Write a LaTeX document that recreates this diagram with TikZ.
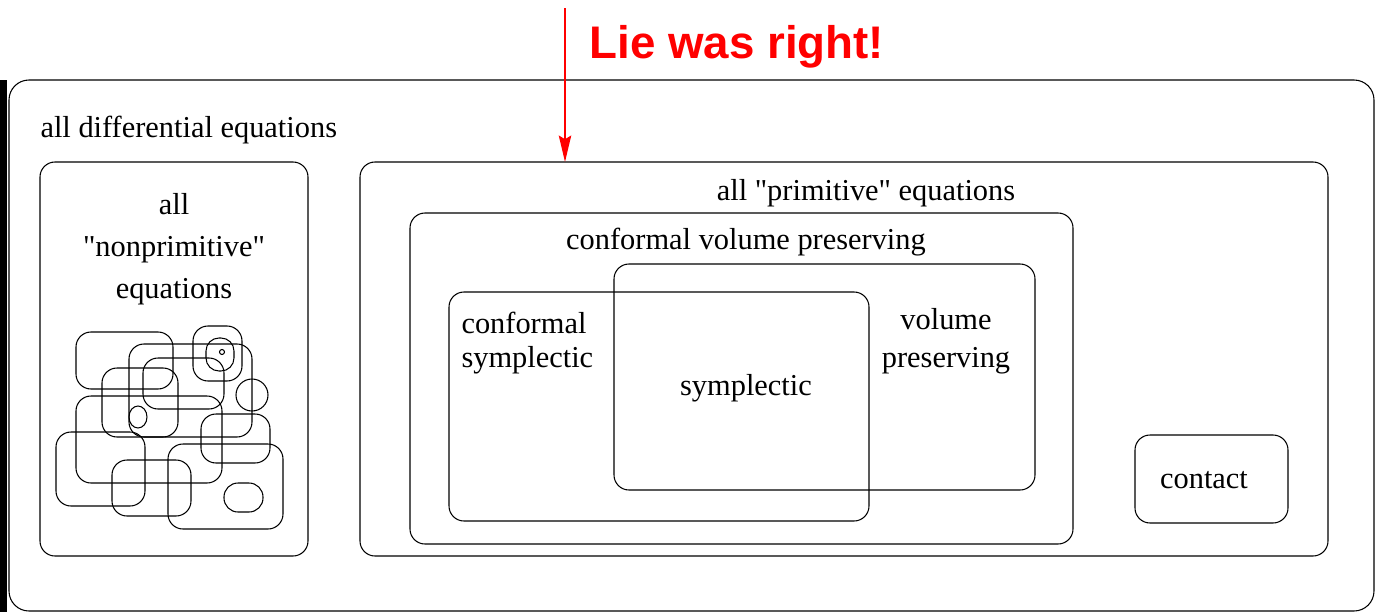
\documentclass[tikz,border=0pt]{standalone}
\usepackage{fontspec}
\setmainfont{Liberation Serif}
\newfontfamily\liefont{Liberation Sans}
\usetikzlibrary{arrows.meta}
\newcommand{\dq}{\XeTeXglyph\XeTeXcharglyph"22\relax}

\begin{document}
\begin{tikzpicture}[x=0.02cm, y=-0.02cm, line width=0.6pt,
		setbox/.style = {rounded corners=0.3cm},
		blob/.style = {rounded corners=0.3cm},
		label/.style = {font=\fontsize{17.3}{19.5}\selectfont, inner sep=0pt, yshift=-1.8pt}]
	\useasboundingbox (0,0) rectangle (1379,612);
	\fill (0,80) rectangle (7,612);

	% outer set
	\draw [rounded corners=0.4cm](9,80) rectangle (1374,611);
	\node (alldiff)[label, anchor = west] at(40, 127)  {all differential equations};

	% nonprimitive side
	\draw [setbox](40,162) rectangle (308,556);
	\node (nonprim)[label, align = center] at(174, 246)  {all\\[4.5pt]\dq nonprimitive\dq\\[4.5pt]equations};
	\foreach \a/\b/\c/\d in {76/332/173/389, 193/326/242/381, 129/344/252/437,
			143/358/224/409, 102/368/178/437, 76/396/222/483, 56/432/145/506,
			201/414/270/463, 112/460/191/516, 168/444/283/529}{
			\draw [blob](\a,\b) rectangle (\c,\d);
		}
	\draw [rounded corners=0.26cm](206,338) rectangle (234,371);
	\draw (222,352) circle [radius=2.5];
	\draw (252,395) ellipse [x radius=16, y radius=16];
	\draw (138,417) ellipse [x radius=9, y radius=11];
	\draw [rounded corners=0.28cm](224,483) rectangle (263,512);

	% primitive side
	\draw [setbox](360,162) rectangle (1328,556);
	\node (prim)[label] at(866, 190)  {all \dq primitive\dq{} equations};
	\draw [setbox](410,213) rectangle (1073,544);
	\node (confvol)[label] at(746, 239)  {conformal volume preserving};
	\draw [setbox](614,264) rectangle (1035,490);
	\node (vol)[label, align = center] at(946, 338)  {volume\\[2.5pt]preserving};
	\draw [setbox](449,292) rectangle (869,521);
	\node (confsym)[label, align = left, anchor = west] at(461, 340)  {conformal\\symplectic};
	\node (sym)[label] at(746, 385)  {symplectic};
	\draw [setbox](1135,435) rectangle (1288,523);
	\node (contact)[label] at(1204, 477)  {contact};

	% Lie
	\node (lie)[text = red, font = \liefont\bfseries\fontsize{26}{30}\selectfont, inner sep = 0pt] at(737, 47)  {Lie was right!};
	\coordinate (start) at(565, 8);
	\coordinate (hit) at(565, 162);
	\draw [red, line width = 1.2pt, -{Stealth[length=15pt, width=7pt, inset=2pt]}](start)--(hit);
\end{tikzpicture}
\end{document}
